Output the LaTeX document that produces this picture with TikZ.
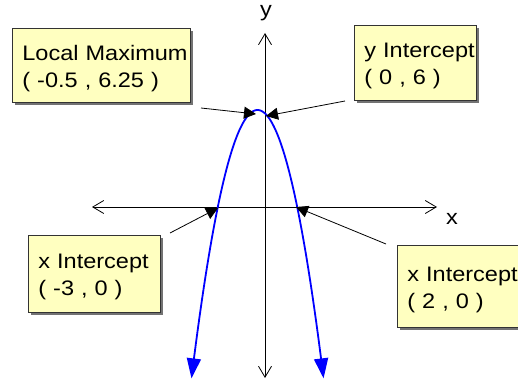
\documentclass[tikz,border=0pt]{standalone}
\usepackage{fontspec}
\setmainfont{Liberation Sans}[FakeStretch=1.12]
\usetikzlibrary{arrows.meta,shadows}
\definecolor{boxfill}{RGB}{255,255,192}
\newcommand{\firststrut}{\rule{0pt}{21pt}}
\begin{document}
\begin{tikzpicture}[x=1pt,y=-1pt,
  lbl/.style={font=\fontsize{21}{27}\selectfont},
  infobox/.style={lbl, draw=black!80, line width=0.8pt, fill=boxfill, align=left,
    inner xsep=10pt, inner ysep=0pt, anchor=north west,
    drop shadow={shadow xshift=2.5pt, shadow yshift=-2.5pt, fill=black!55, opacity=1}},
  axis/.style={line width=0.8pt, black, {Straight Barb[length=11pt,width=13pt]}-{Straight Barb[length=11pt,width=13pt]}},
  pointer/.style={line width=0.8pt, black, -{Triangle[length=12pt,width=12pt]}},
  curve/.style={line width=1.8pt, blue, {Triangle[length=20pt,width=14pt]}-{Triangle[length=20pt,width=14pt]}}]
\useasboundingbox (0,0) rectangle (518,379);
\clip (0,0) rectangle (518,379);

% axes
\coordinate (ytop) at (265,33);
\coordinate (ybot) at (265,378);
\coordinate (xleft) at (92,207);
\coordinate (xright) at (437,207);
\draw[axis] (ybot) -- (ytop);
\draw[axis] (xleft) -- (xright);
\node[lbl] (ylab) at (266,13) {y};
\node[lbl] (xlab) at (452,219) {x};

% parabola y = -x^2 - x + 6
\draw[curve] plot[domain=-4.68:3.68, samples=120, smooth] ({265.4+15.8*\x},{206+15.36*(\x*\x+\x-6)});

% boxes
\node[infobox, minimum width=178pt, minimum height=74pt, text width=158pt] (lm) at (12,28)
  {\mbox{\firststrut Local Maximum}\\\mbox{( -0.5 , 6.25 )}};
\node[infobox, minimum width=122pt, minimum height=75pt, text width=102pt] (yi) at (354,25)
  {\mbox{\firststrut y Intercept}\\\mbox{( 0 , 6 )}};
\node[infobox, minimum width=132pt, minimum height=77pt, text width=112pt] (xl) at (28,235)
  {\mbox{\firststrut x Intercept}\\\mbox{( -3 , 0 )}};
\node[infobox, minimum width=150pt, minimum height=82pt, text width=130pt] (xr) at (397,245)
  {\mbox{\firststrut x Intercept}\\\mbox{( 2 , 0 )}};

% pointers
\coordinate (lmstart) at (201,108);
\coordinate (lmtip) at (256,114);
\coordinate (yistart) at (345,101);
\coordinate (yitip) at (266,116);
\coordinate (xlstart) at (170,233);
\coordinate (xltip) at (218,208);
\coordinate (xrstart) at (386,244);
\coordinate (xrtip) at (296,207);
\draw[pointer] (lmstart) -- (lmtip);
\draw[pointer] (yistart) -- (yitip);
\draw[pointer] (xlstart) -- (xltip);
\draw[pointer] (xrstart) -- (xrtip);
\end{tikzpicture}
\end{document}
